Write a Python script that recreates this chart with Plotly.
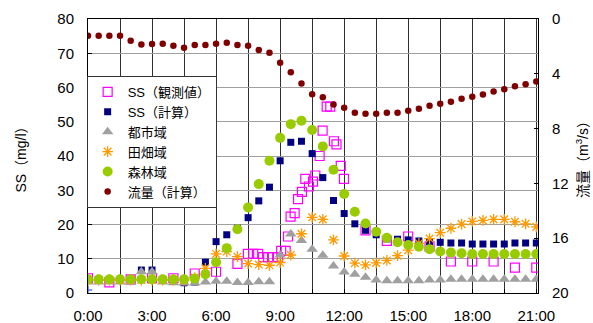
import plotly.graph_objects as go

# ---- data ----
calc_hours = [0, 0.5, 1, 1.5, 2, 2.5, 3, 3.5, 4, 4.5, 5, 5.5, 6, 6.5, 7, 7.5, 8, 8.5,
              9, 9.5, 10, 10.5, 11, 11.5, 12, 12.5, 13, 13.5, 14, 14.5, 15, 15.5,
              16, 16.5, 17, 17.5, 18, 18.5, 19, 19.5, 20, 20.5, 21]

ss_calc = [3.8, 3.8, 3.8, 3.8, 3.8, 6.7, 6.7, 3.8, 3.8, 3.0, 3.2, 9.0, 15.0, 17.0, 18.9,
           22.0, 26.9, 30.9, 38.6, 44.0, 44.3, 40.7, 33.7, 27.0, 23.2, 20.2, 18.3, 17.0,
           15.8, 15.7, 15.5, 15.2, 14.9, 14.8, 14.6, 14.6, 14.3, 14.3, 14.3, 14.3, 14.6,
           14.6, 14.6]

urban = [3.2, 3.2, 3.2, 3.2, 3.2, 6.2, 6.2, 3.2, 3.0, 2.9, 2.9, 3.2, 3.4, 3.4, 3.1, 3.1,
         3.3, 3.3, 11.1, 17.2, 15.3, 12.8, 11.0, 7.9, 6.1, 5.5, 4.6, 3.8, 3.6, 3.6, 3.6,
         3.6, 3.8, 3.8, 4.0, 4.0, 4.0, 4.0, 4.0, 4.0, 4.0, 4.0, 4.0]

farm = [3.8, 3.8, 3.8, 3.8, 3.8, 3.8, 3.8, 3.8, 3.8, 3.8, 4.5, 7.2, 11.4, 12.1, 10.6,
        8.6, 8.3, 8.1, 8.9, 11.1, 17.3, 22.1, 21.5, 15.5, 10.8, 8.7, 8.2, 8.8, 9.5, 10.9,
        12.5, 14.5, 15.9, 17.6, 18.9, 20.1, 20.9, 21.2, 21.5, 21.5, 20.8, 20.2, 19.3]

forest = [4.0, 4.0, 4.0, 4.0, 4.0, 4.0, 4.0, 4.0, 4.0, 4.0, 4.2, 5.5, 9.0, 13.1, 18.6,
          25.0, 31.8, 38.6, 45.3, 49.3, 50.3, 47.6, 42.8, 36.0, 28.9, 23.7, 20.3, 17.9,
          16.1, 14.8, 14.0, 13.5, 12.8, 12.1, 11.8, 11.6, 11.4, 11.4, 11.4, 11.4, 11.4,
          11.4, 11.4]

flow = [1.22, 1.22, 1.22, 1.22, 1.58, 1.87, 1.82, 1.80, 1.95, 2.09, 1.90, 1.90, 1.80,
        1.73, 1.90, 1.95, 2.26, 2.46, 3.19, 3.89, 4.70, 5.50, 5.72, 6.24, 6.47, 6.84,
        6.92, 6.91, 6.84, 6.84, 6.69, 6.55, 6.33, 6.18, 6.04, 5.82, 5.67, 5.52, 5.30,
        5.13, 4.91, 4.77, 4.56]

obs_hours = [0, 1, 2, 3, 4, 5, 6, 7, 7.49, 7.74, 7.97, 8.20, 8.44, 8.66, 8.90, 9.05,
             9.26, 9.37, 9.49, 9.68, 9.84, 10.02, 10.18, 10.35, 10.54, 10.65, 10.85,
             10.99, 11.18, 11.35, 11.52, 11.64, 11.84, 11.99, 13, 14, 15, 16, 17, 18,
             19, 20, 21]
ss_obs = [4.3, 3.1, 4.0, 4.3, 4.3, 5.7, 6.2, 8.5, 11.4, 11.4, 11.4, 10.5, 10.5, 10.5,
          10.5, 12.3, 12.3, 16.5, 22.3, 23.3, 27.4, 29.5, 33.3, 31.1, 32.5, 34.3, 40.0,
          47.4, 54.4, 54.4, 44.3, 43.4, 37.1, 33.3, 18.3, 15.2, 16.5, 13.6, 9.2, 9.2,
          9.2, 7.4, 7.4]

extra_x = [0]
extra_y = [0.9]

x_tickvals = [0, 3, 6, 9, 12, 15, 18, 21]
x_ticktext = ["0:00", "3:00", "6:00", "9:00", "12:00", "15:00", "18:00", "21:00"]

FONT = "Liberation Sans, Arial, Noto Sans CJK JP, sans-serif"

fig = go.Figure()

fig.add_trace(go.Scatter(x=extra_x, y=extra_y, mode="markers", showlegend=False,
                         marker=dict(symbol="cross-thin-open", size=6,
                                     line=dict(color="#008080", width=1.5))))
fig.add_trace(go.Scatter(x=obs_hours, y=ss_obs, mode="markers", name="SS（観測値）",
                         marker=dict(symbol="square-open", size=9, color="#FF00FF",
                                     line=dict(width=1.2, color="#FF00FF"))))
fig.add_trace(go.Scatter(x=calc_hours, y=ss_calc, mode="markers", name="SS（計算）",
                         marker=dict(symbol="square", size=7, color="#000080")))
fig.add_trace(go.Scatter(x=calc_hours, y=urban, mode="markers", name="都市域",
                         marker=dict(symbol="triangle-up", size=10, color="#A0A0A0")))
fig.add_trace(go.Scatter(x=calc_hours, y=farm, mode="markers", name="田畑域",
                         marker=dict(symbol="asterisk-open", size=9, color="#FF9900",
                                     line=dict(width=1.3, color="#FF9900"))))
fig.add_trace(go.Scatter(x=calc_hours, y=forest, mode="markers", name="森林域",
                         marker=dict(symbol="circle", size=10, color="#99CC00")))
fig.add_trace(go.Scatter(x=calc_hours, y=flow, mode="markers", name="流量（計算）",
                         yaxis="y2",
                         marker=dict(symbol="circle", size=6.5, color="#800000")))

fig.update_layout(
    width=593, height=323,
    margin=dict(l=88, r=55, t=19, b=30, pad=0, autoexpand=False),
    paper_bgcolor="white", plot_bgcolor="white",
    font=dict(family=FONT, size=15, color="black"),
    showlegend=True,
    legend=dict(x=-0.003, y=0.792, xanchor="left", yanchor="top",
                bgcolor="white", bordercolor="#333333", borderwidth=1,
                font=dict(size=13, family=FONT), tracegroupgap=0, itemwidth=30),
    xaxis=dict(range=[0, 21.08], tickmode="array", tickvals=x_tickvals,
               ticktext=x_ticktext, showgrid=True, gridcolor="#303030", gridwidth=1,
               showline=True, linecolor="black", linewidth=1, mirror=True,
               ticks="inside", ticklen=4, tickcolor="black", zeroline=False,
               ticklabelstandoff=9, automargin=False,
               minor=dict(tickmode="linear", tick0=0, dtick=1.5, showgrid=True,
                          gridcolor="#303030", gridwidth=1, ticks="inside",
                          ticklen=4, tickcolor="black"),
               tickfont=dict(size=15)),
    yaxis=dict(range=[0, 80], dtick=10, tick0=0, showgrid=True, gridcolor="#A0A0A0",
               gridwidth=1, showline=True, linecolor="black", linewidth=1,
               mirror=True, ticks="inside", ticklen=4, tickcolor="black",
               zeroline=False, ticklabelstandoff=10, automargin=False,
               title=dict(text="SS（mg/l）", font=dict(size=14), standoff=27),
               tickfont=dict(size=15)),
    yaxis2=dict(range=[20, 0], dtick=4, tick0=0, overlaying="y", side="right",
                showgrid=False, showline=True, linecolor="black", linewidth=1,
                ticks="inside", ticklen=4, tickcolor="black", zeroline=False,
                ticklabelstandoff=10, automargin=False,
                title=dict(text="流量（m<sup>3</sup>/s）", font=dict(size=14), standoff=10),
                tickfont=dict(size=15)),
)

fig.write_html("out.html")
